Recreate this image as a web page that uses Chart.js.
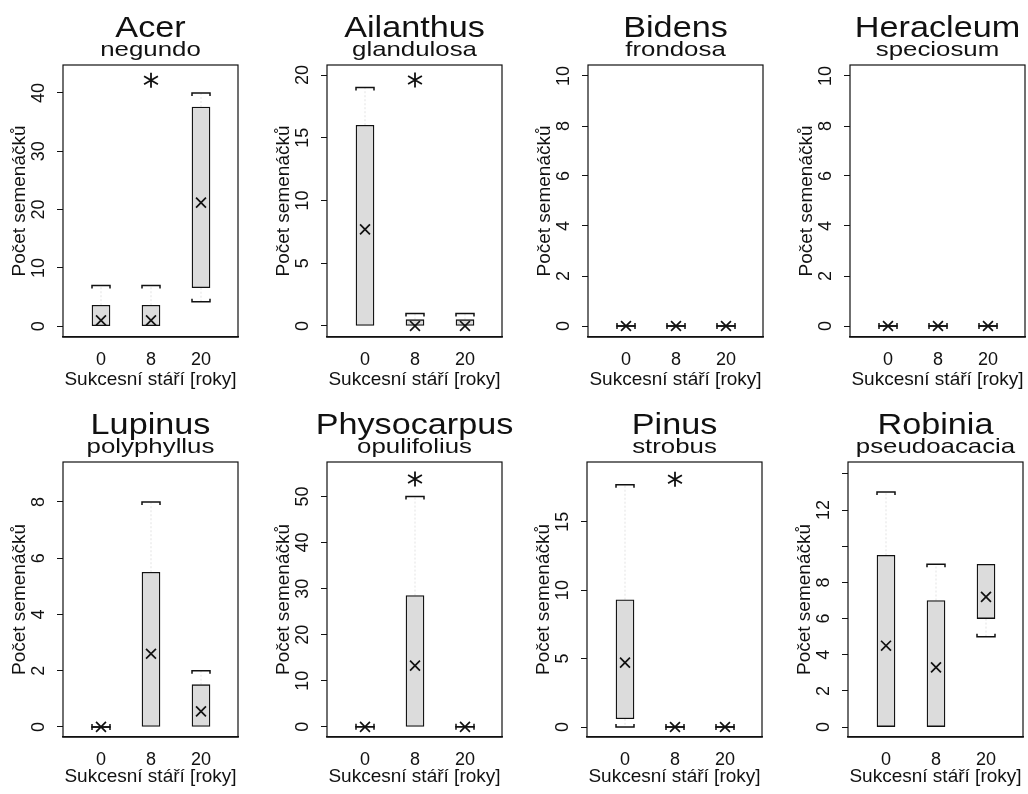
<!DOCTYPE html>
<html>
<head>
<meta charset="utf-8">
<script src="https://cdn.jsdelivr.net/npm/chart.js@4.4.1/dist/chart.umd.min.js"></script>
<style>
  body { margin: 0; background: #fff; width: 1028px; height: 794px; overflow: hidden; position: relative; }
  canvas { position: absolute; }
</style>
</head>
<body>
<script>
// ---- data ----
const ageLabels = ['0', '8', '20'];
const genera = ['Acer', 'Ailanthus', 'Bidens', 'Heracleum', 'Lupinus', 'Physocarpus', 'Pinus', 'Robinia'];
const species = ['negundo', 'glandulosa', 'frondosa', 'speciosum', 'polyphyllus', 'opulifolius', 'strobus', 'pseudoacacia'];

const boxLow    = [[0, 0, 6.6], [0, 0, 0],     [0, 0, 0], [0, 0, 0], [0, 0, 0],      [0, 0, 0],    [0.6, 0, 0], [0, 0, 6]];
const boxHigh   = [[3.6, 3.6, 37.6], [16, 0.5, 0.5], [0, 0, 0], [0, 0, 0], [0, 5.5, 1.5], [0, 28.5, 0], [9.3, 0, 0], [9.5, 7, 9]];
const whiskLow  = [[0, 0, 4.2], [0, 0, 0],     [0, 0, 0], [0, 0, 0], [0, 0, 0],      [0, 0, 0],    [0, 0, 0],   [0, 0, 5]];
const whiskHigh = [[7, 7, 40], [19, 1, 1],     [0, 0, 0], [0, 0, 0], [0, 8, 2],      [0, 50, 0],   [17.7, 0, 0], [13, 9, 9]];
const means     = [[1.0, 1.0, 21.2], [7.7, 0, 0], [0, 0, 0], [0, 0, 0], [0, 2.6, 0.55], [0, 13.3, 0], [4.7, 0, 0], [4.5, 3.3, 7.2]];

const yMin = [-1.85, -0.88, -0.44, -0.44, -0.36, -2.2, -0.73, -0.55];
const yMax = [44.8, 20.8, 10.44, 10.44, 9.42, 57.5, 19.36, 14.66];
const yTicks = [
  [0, 10, 20, 30, 40], [0, 5, 10, 15, 20], [0, 2, 4, 6, 8, 10], [0, 2, 4, 6, 8, 10],
  [0, 2, 4, 6, 8], [0, 10, 20, 30, 40, 50], [0, 5, 10, 15], [0, 2, 4, 6, 8, 10, 12, 14]
];
const yTickHidden = [[], [], [], [], [], [], [], [10, 14]];
const starGroup = [2, 2, null, null, null, 2, 2, null];
const starY = [42.2, 19.6, null, null, null, 53.8, 18.1, null];

// ---- layout ----
const plotLeft = [63, 327, 588, 850, 63, 327, 587, 848];
const PLOT_W = 175, AXIS_W = 63, CANVAS_W = 262, CANVAS_H = 397, PLOT_TOP = 65;
const rowBottom = [337, 340];
const FONT = "'Liberation Sans', Arial, Helvetica, sans-serif";
const INK = '#111';

Chart.defaults.font.family = FONT;

function bracket(ctx, cx, y, half, tick) {
  ctx.beginPath();
  ctx.moveTo(cx - half, y + tick);
  ctx.lineTo(cx - half, y);
  ctx.lineTo(cx + half, y);
  ctx.lineTo(cx + half, y + tick);
  ctx.stroke();
}

const panelDecor = {
  id: 'panelDecor',
  beforeDatasetsDraw(chart, args, opts) {
    // whiskers go under the boxes and mean marks
    const i = opts.panel;
    const ctx = chart.ctx;
    const xs = chart.scales.x, ys = chart.scales.y;
    ctx.save();
    for (let g = 0; g < 3; g++) {
      const cx = xs.getPixelForValue(g + 1);
      const hasBox = boxHigh[i][g] > boxLow[i][g];
      const hi = ys.getPixelForValue(whiskHigh[i][g]);
      const lo = ys.getPixelForValue(whiskLow[i][g]);
      const bt = ys.getPixelForValue(boxHigh[i][g]);
      const bb = ys.getPixelForValue(boxLow[i][g]);
      ctx.strokeStyle = '#e3e3e3';
      ctx.lineWidth = 1;
      ctx.setLineDash([2, 2]);
      ctx.beginPath();
      if (hi < bt - 2) { ctx.moveTo(cx, bt); ctx.lineTo(cx, hi); }
      if (lo > bb + 2) { ctx.moveTo(cx, bb); ctx.lineTo(cx, lo); }
      ctx.stroke();
      ctx.setLineDash([]);
      ctx.strokeStyle = INK;
      ctx.lineWidth = 1.5;
      if (!hasBox || whiskHigh[i][g] !== boxHigh[i][g]) bracket(ctx, cx, hi, 9, 3);
      if (!hasBox || whiskLow[i][g] !== boxLow[i][g]) bracket(ctx, cx, lo, 9, -3);
    }
    ctx.restore();
  },
  afterDatasetsDraw(chart, args, opts) {
    const i = opts.panel;
    const ctx = chart.ctx;
    const xs = chart.scales.x, ys = chart.scales.y;
    const a = chart.chartArea;
    ctx.save();

    // frame
    ctx.strokeStyle = INK;
    ctx.lineWidth = 1.2;
    ctx.strokeRect(a.left, a.top, a.right - a.left, a.bottom - a.top);

    // y tick labels, rotated like R
    ctx.fillStyle = INK;
    ctx.font = '18px ' + FONT;
    ctx.textAlign = 'center';
    ctx.textBaseline = 'middle';
    ys.ticks.forEach(t => {
      if (yTickHidden[i].includes(t.value)) return;
      const py = ys.getPixelForValue(t.value);
      ctx.save();
      ctx.translate(a.left - 24, py);
      ctx.rotate(-Math.PI / 2);
      ctx.fillText(String(t.value), 0, 0);
      ctx.restore();
    });

    // significance asterisk
    if (starGroup[i] !== null) {
      const sx = xs.getPixelForValue(starGroup[i]);
      const sy = ys.getPixelForValue(starY[i]);
      ctx.lineWidth = 1.8;
      ctx.beginPath();
      ctx.moveTo(sx, sy - 7.5); ctx.lineTo(sx, sy + 7.5);
      const dx = 8 * Math.cos(Math.PI / 6), dy = 8 * Math.sin(Math.PI / 6);
      ctx.moveTo(sx - dx, sy - dy); ctx.lineTo(sx + dx, sy + dy);
      ctx.moveTo(sx - dx, sy + dy); ctx.lineTo(sx + dx, sy - dy);
      ctx.stroke();
    }

    // two-line title
    const mx = (a.left + a.right) / 2;
    ctx.textAlign = 'center';
    ctx.textBaseline = 'alphabetic';
    ctx.save();
    ctx.translate(mx, 37);
    ctx.scale(1.14, 1);
    ctx.font = '30px ' + FONT;
    ctx.fillText(genera[i], 0, 0);
    ctx.restore();
    ctx.save();
    ctx.translate(mx, 56);
    ctx.scale(1.23, 1);
    ctx.font = '21px ' + FONT;
    ctx.fillText(species[i], 0, 0);
    ctx.restore();

    ctx.restore();
  }
};

genera.forEach((name, i) => {
  const row = i < 4 ? 0 : 1;
  const cv = document.createElement('canvas');
  cv.width = CANVAS_W;
  cv.height = CANVAS_H;
  cv.style.left = (plotLeft[i] - AXIS_W) + 'px';
  cv.style.top = (row * CANVAS_H) + 'px';
  document.body.appendChild(cv);

  const boxData = [];
  const meanData = [];
  for (let g = 0; g < 3; g++) {
    if (boxHigh[i][g] > boxLow[i][g]) boxData.push({ x: g + 1, y: [boxLow[i][g], boxHigh[i][g]] });
    meanData.push({ x: g + 1, y: means[i][g] });
  }

  new Chart(cv, {
    type: 'bar',
    data: {
      datasets: [
        {
          type: 'bar', data: boxData, backgroundColor: '#dcdcdc', borderColor: INK,
          borderWidth: 1.3, borderSkipped: false, barThickness: 18, order: 2
        },
        {
          type: 'scatter', data: meanData, pointStyle: 'crossRot', radius: 7,
          borderColor: INK, backgroundColor: INK, borderWidth: 1.7, order: 1
        }
      ]
    },
    options: {
      responsive: false,
      animation: false,
      devicePixelRatio: 1,
      layout: { padding: { top: PLOT_TOP, right: CANVAS_W - AXIS_W - PLOT_W, left: 0, bottom: 0 } },
      plugins: { legend: { display: false }, tooltip: { enabled: false }, panelDecor: { panel: i } },
      scales: {
        x: {
          type: 'linear', min: 0.24, max: 3.74, offset: false,
          afterBuildTicks: s => { s.ticks = [1, 2, 3].map(v => ({ value: v })); },
          afterFit: s => { s.height = CANVAS_H - rowBottom[row]; },
          ticks: { callback: v => ageLabels[v - 1], font: { size: 18 }, color: INK, padding: 12, maxRotation: 0, autoSkip: false },
          grid: { display: false, drawTicks: false },
          border: { display: true, color: INK, width: 1.5 },
          title: { display: true, text: 'Sukcesní stáří [roky]', font: { size: 19 }, color: INK, padding: { top: 0, bottom: 6 } }
        },
        y: {
          type: 'linear', min: yMin[i], max: yMax[i],
          afterBuildTicks: s => { s.ticks = yTicks[i].map(v => ({ value: v })); },
          afterFit: s => { s.width = AXIS_W; },
          ticks: { display: false },
          grid: { drawOnChartArea: false, drawTicks: true, tickLength: 6, color: INK, tickColor: INK },
          border: { display: false },
          title: { display: true, text: 'Počet semenáčků', font: { size: 19 }, color: INK, padding: { top: 8, bottom: 0 } }
        }
      }
    },
    plugins: [panelDecor]
  });
});
</script>
</body>
</html>
